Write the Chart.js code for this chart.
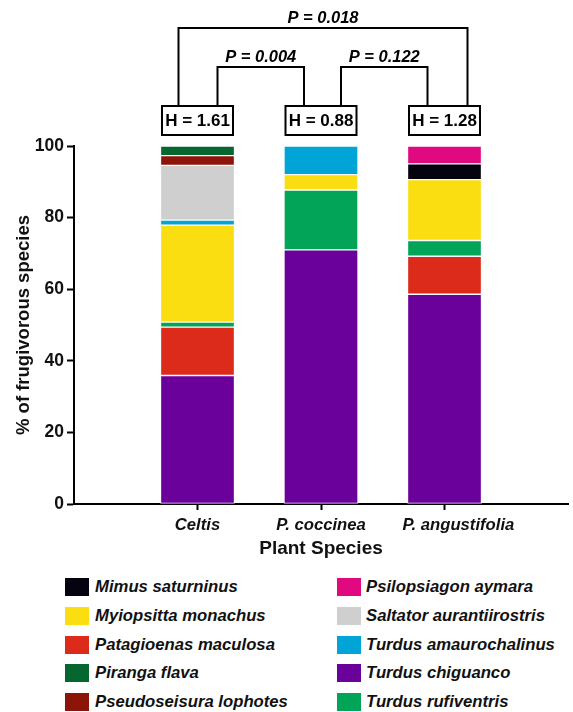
<!DOCTYPE html>
<html>
<head>
<meta charset="utf-8">
<script src="https://cdn.jsdelivr.net/npm/chart.js@4"></script>
<style>
  body { margin: 0; background: #fff; width: 573px; height: 712px; position: relative; overflow: hidden; }
  #chart { position: absolute; left: 0; top: 0; }
  .sw { position: absolute; width: 24px; height: 18px; }
  .lt { position: absolute; font: italic bold 16.7px "Liberation Sans", Arial, sans-serif; color: #111; line-height: 18px; white-space: nowrap; }
</style>
</head>
<body>
<canvas id="chart" width="573" height="565"></canvas>
<div id="legend"></div>
<script>
// categories (empty slots at both ends so the x axis runs to the edges)
const categories = ['', 'Celtis', 'P. coccinea', 'P. angustifolia', ''];

// % of frugivorous species per plant (Celtis, P. coccinea, P. angustifolia)
const turdusChiguanco      = [35.9, 71.0, 58.6];
const patagioenasMaculosa  = [13.5, 0, 10.6];
const turdusRufiventris    = [1.4, 16.7, 4.4];
const myiopsittaMonachus   = [27.1, 4.3, 17.0];
const turdusAmaurochalinus = [1.4, 8.0, 0];
const mimusSaturninus      = [0, 0, 4.4];
const saltatorAurantii     = [15.3, 0, 0];
const pseudoseisura        = [2.7, 0, 0];
const pirangaFlava         = [2.7, 0, 0];
const psilopsiagonAymara   = [0, 0, 5.0];

const yTicks = [0, 20, 40, 60, 80, 100];

// Shannon H per plant and P values of the pairwise comparisons
const hValues = ['1.61', '0.88', '1.28'];
const pValues = { celtisAngustifolia: '0.018', celtisCoccinea: '0.004', coccineaAngustifolia: '0.122' };

// stacking order, bottom to top
const series = [
    { label: 'Turdus chiguanco', data: turdusChiguanco, color: '#6a019b' },
    { label: 'Patagioenas maculosa', data: patagioenasMaculosa, color: '#dc2a1b' },
    { label: 'Turdus rufiventris', data: turdusRufiventris, color: '#02a557' },
    { label: 'Myiopsitta monachus', data: myiopsittaMonachus, color: '#fbde12' },
    { label: 'Turdus amaurochalinus', data: turdusAmaurochalinus, color: '#01a4d6' },
    { label: 'Mimus saturninus', data: mimusSaturninus, color: '#05030f' },
    { label: 'Saltator aurantiirostris', data: saltatorAurantii, color: '#cfcfcf' },
    { label: 'Pseudoseisura lophotes', data: pseudoseisura, color: '#8b1509' },
    { label: 'Piranga flava', data: pirangaFlava, color: '#056630' },
    { label: 'Psilopsiagon aymara', data: psilopsiagonAymara, color: '#e0097f' }
];

const FONT = '"Liberation Sans", Arial, sans-serif';

// H boxes and P brackets above the bars
const statsPlugin = {
    id: 'stats',
    afterDraw(chart) {
        const c = chart.ctx;
        const x = chart.scales.x;
        const cx = [1, 2, 3].map(i => x.getPixelForValue(i));
        const boxTop = 106, boxH = 29, boxW = 71;
        c.save();
        c.strokeStyle = '#000';
        c.lineWidth = 2;
        c.fillStyle = '#000';
        c.textAlign = 'center';
        c.textBaseline = 'middle';

        const bracket = (x1, x2, top, text) => {
            c.beginPath();
            c.moveTo(x1, boxTop);
            c.lineTo(x1, top);
            c.lineTo(x2, top);
            c.lineTo(x2, boxTop);
            c.stroke();
            c.font = 'italic bold 16.5px ' + FONT;
            c.fillText('P = ' + text, (x1 + x2) / 2, top - 10);
        };
        bracket(cx[0] - 19, cx[2] + 23, 28, pValues.celtisAngustifolia);
        bracket(cx[0] + 20, cx[1] - 17, 67, pValues.celtisCoccinea);
        bracket(cx[1] + 20, cx[2] - 17, 67, pValues.coccineaAngustifolia);

        c.font = 'bold 17px ' + FONT;
        cx.forEach((px, i) => {
            c.fillStyle = '#fff';
            c.fillRect(px - boxW / 2, boxTop, boxW, boxH);
            c.strokeRect(px - boxW / 2, boxTop, boxW, boxH);
            c.fillStyle = '#000';
            c.fillText('H = ' + hValues[i], px, boxTop + boxH / 2 + 1);
        });
        c.restore();
    }
};

const chart = new Chart(document.getElementById('chart'), {
    type: 'bar',
    data: {
        labels: categories,
        datasets: series.map(s => ({
            label: s.label,
            data: [null, ...s.data.map(v => v === 0 ? null : v), null],
            backgroundColor: s.color,
            borderColor: 'rgba(255,255,255,0.85)',
            borderWidth: 1,
            borderSkipped: false,
            barThickness: 74
        }))
    },
    options: {
        responsive: false,
        animation: false,
        devicePixelRatio: 1,
        layout: { padding: { top: 146, left: 0, right: 0, bottom: 0 } },
        plugins: {
            legend: { display: false },
            tooltip: { enabled: false }
        },
        scales: {
            x: {
                stacked: true,
                offset: false,
                afterFit: s => { s.height = 61; },
                grid: {
                    offset: false,
                    drawOnChartArea: false,
                    tickLength: 6,
                    tickWidth: 2,
                    tickColor: ctx => (ctx.index === 0 || ctx.index === 4) ? 'rgba(0,0,0,0)' : '#000'
                },
                border: { color: '#000', width: 2 },
                ticks: {
                    color: '#111',
                    padding: 5,
                    autoSkip: false,
                    maxRotation: 0,
                    // the last label sits a little right of its tick in the original
                    callback: function (v, i) {
                        const l = this.getLabelForValue(v);
                        return i === 3 ? '      ' + l : l;
                    },
                    font: { family: FONT, size: 16.7, style: 'italic', weight: 'bold' }
                },
                title: {
                    display: true,
                    text: 'Plant Species',
                    color: '#111',
                    padding: { top: 0, bottom: 5 },
                    font: { family: FONT, size: 19, weight: 'bold' }
                }
            },
            y: {
                stacked: true,
                min: 0,
                max: 100,
                afterFit: s => { s.width = 74; },
                afterBuildTicks: s => { s.ticks = yTicks.map(v => ({ value: v })); },
                grid: {
                    drawOnChartArea: false,
                    tickLength: 7,
                    tickWidth: 2,
                    tickColor: '#000'
                },
                border: { color: '#000', width: 2 },
                ticks: {
                    color: '#111',
                    padding: 3,
                    font: { family: FONT, size: 17.5, weight: 'bold' }
                },
                title: {
                    display: true,
                    text: '% of frugivorous species',
                    color: '#111',
                    padding: { top: 13, bottom: 0 },
                    font: { family: FONT, size: 18.5, weight: 'bold' }
                }
            }
        }
    },
    plugins: [statsPlugin]
});

// two-column legend, alphabetical, built from the chart datasets
const legendEl = document.getElementById('legend');
const sorted = chart.data.datasets.map(d => ({ label: d.label, color: d.backgroundColor }))
    .sort((a, b) => a.label.localeCompare(b.label));
sorted.forEach((item, i) => {
    const col = Math.floor(i / 5), row = i % 5;
    const top = 578 + row * 28.75;
    const sw = document.createElement('div');
    sw.className = 'sw';
    sw.style.left = (col ? 337 : 65) + 'px';
    sw.style.top = top + 'px';
    sw.style.background = item.color;
    const tx = document.createElement('div');
    tx.className = 'lt';
    tx.style.left = (col ? 366 : 95) + 'px';
    tx.style.top = top + 'px';
    tx.textContent = item.label;
    legendEl.appendChild(sw);
    legendEl.appendChild(tx);
});
</script>
</body>
</html>
